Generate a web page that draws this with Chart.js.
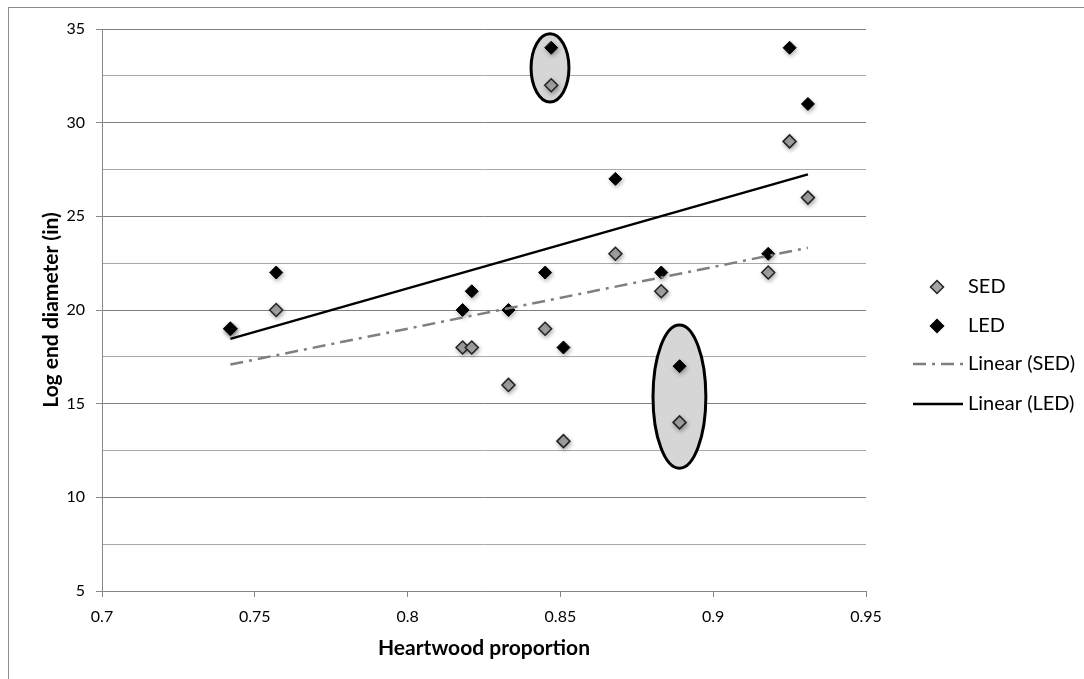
<!DOCTYPE html>
<html>
<head>
<meta charset="utf-8">
<script src="https://cdn.jsdelivr.net/npm/chart.js@4/dist/chart.umd.min.js"></script>
<style>
  html, body { margin: 0; padding: 0; background: #fff; }
  #wrap { width: 1084px; height: 679px; position: relative; }
</style>
</head>
<body>
<div id="wrap"><canvas id="chart"></canvas></div>
<script>
// values
const heartwood = [0.742, 0.757, 0.818, 0.821, 0.833, 0.845, 0.847, 0.851, 0.868, 0.883, 0.889, 0.918, 0.925, 0.931];
const sedValues = [19, 20, 18, 18, 16, 19, 32, 13, 23, 21, 14, 22, 29, 26];
const ledValues = [19, 22, 20, 21, 20, 22, 34, 18, 27, 22, 17, 23, 34, 31];

// trend line end points (Excel linear trendlines)
const trendX = [0.742, 0.931];
const sedTrend = [17.09, 23.32];
const ledTrend = [18.46, 27.24];

const xTickLabels = ['0.7', '0.75', '0.8', '0.85', '0.9', '0.95'];
const legendLabels = ['SED', 'LED', 'Linear (SED)', 'Linear (LED)'];

// the two highlighted pairs, in data units
const highlights = [
    { xMin: 0.8404, xMax: 0.8528, yMin: 31.1, yMax: 34.75 },
    { xMin: 0.8803, xMax: 0.8976, yMin: 11.55, yMax: 19.2 }
];

const FONT = 'Lato, Carlito, Calibri, sans-serif';
const SED_FILL = '#a6a6a6';
const SED_LINE = '#7f7f7f';
const DASH = [13, 6, 3, 6];

const toPts = (xs, ys) => xs.map((x, i) => ({ x, y: ys[i] }));

const framePlugin = {
    id: 'frame',
    beforeDraw(chart) {
        const ctx = chart.ctx;
        ctx.save();
        ctx.fillStyle = '#fff';
        ctx.fillRect(0, 0, chart.width, chart.height);
        ctx.strokeStyle = '#8c8c8c';
        ctx.lineWidth = 1;
        ctx.strokeRect(8.5, 7.5, chart.width + 20, chart.height + 20);
        ctx.restore();
    },
    beforeDatasetsDraw(chart) {
        const {ctx, scales: {x, y}} = chart;
        ctx.save();
        highlights.forEach(h => {
            const x0 = x.getPixelForValue(h.xMin), x1 = x.getPixelForValue(h.xMax);
            const y0 = y.getPixelForValue(h.yMax), y1 = y.getPixelForValue(h.yMin);
            ctx.beginPath();
            ctx.ellipse((x0 + x1) / 2, (y0 + y1) / 2, (x1 - x0) / 2, (y1 - y0) / 2, 0, 0, Math.PI * 2);
            ctx.fillStyle = '#d6d6d6';
            ctx.fill();
            ctx.lineWidth = 3;
            ctx.strokeStyle = '#000';
            ctx.stroke();
        });
        ctx.restore();
    },
    // soft marker shadows like the Excel original
    beforeDatasetDraw(chart, args) {
        if (args.meta.dataset && chart.data.datasets[args.index].showLine) return;
        const ctx = chart.ctx;
        ctx.save();
        ctx.shadowColor = 'rgba(0,0,0,0.3)';
        ctx.shadowBlur = 4;
        ctx.shadowOffsetX = 1;
        ctx.shadowOffsetY = 2;
    },
    afterDatasetDraw(chart, args) {
        if (args.meta.dataset && chart.data.datasets[args.index].showLine) return;
        chart.ctx.restore();
    },
    afterDraw(chart) {
        // legend on the right, Excel style
        const {ctx, chartArea} = chart;
        const r = chartArea.right;
        const rows = [287, 326, 364, 404];
        ctx.save();
        ctx.font = '20px ' + FONT;
        ctx.fillStyle = '#000';
        ctx.textBaseline = 'middle';
        rows.forEach((yy, i) => {
            ctx.fillText(legendLabels[i], r + 102, yy);
        });
        const diamond = (cx, cy, rad, fill, stroke) => {
            ctx.beginPath();
            ctx.moveTo(cx, cy - rad); ctx.lineTo(cx + rad, cy);
            ctx.lineTo(cx, cy + rad); ctx.lineTo(cx - rad, cy);
            ctx.closePath();
            ctx.fillStyle = fill; ctx.fill();
            ctx.lineWidth = 1.5; ctx.strokeStyle = stroke; ctx.stroke();
        };
        diamond(r + 71, rows[0], 6.5, SED_FILL, '#222');
        diamond(r + 71, rows[1], 6.5, '#000', '#000');
        ctx.lineWidth = 2.5;
        ctx.strokeStyle = SED_LINE;
        ctx.setLineDash(DASH);
        ctx.beginPath(); ctx.moveTo(r + 47, rows[2]); ctx.lineTo(r + 97, rows[2]); ctx.stroke();
        ctx.setLineDash([]);
        ctx.strokeStyle = '#000';
        ctx.beginPath(); ctx.moveTo(r + 47, rows[3]); ctx.lineTo(r + 97, rows[3]); ctx.stroke();
        ctx.restore();
    }
};

new Chart(document.getElementById('chart'), {
    type: 'scatter',
    data: {
        datasets: [
            {
                label: 'Linear (LED)',
                data: toPts(trendX, ledTrend),
                showLine: true,
                borderColor: '#000',
                borderWidth: 2.5,
                pointRadius: 0,
                order: 0
            },
            {
                label: 'Linear (SED)',
                data: toPts(trendX, sedTrend),
                showLine: true,
                borderColor: SED_LINE,
                borderWidth: 2.5,
                borderDash: DASH,
                pointRadius: 0,
                order: 1
            },
            {
                label: 'LED',
                data: toPts(heartwood, ledValues),
                pointStyle: 'rectRot',
                pointRadius: 6.5,
                backgroundColor: '#000',
                borderColor: '#000',
                borderWidth: 1,
                order: 2
            },
            {
                label: 'SED',
                data: toPts(heartwood, sedValues),
                pointStyle: 'rectRot',
                pointRadius: 6.5,
                backgroundColor: SED_FILL,
                borderColor: '#222',
                borderWidth: 1.5,
                order: 3
            }
        ]
    },
    options: {
        responsive: true,
        maintainAspectRatio: false,
        animation: false,
        layout: { padding: { left: 35, right: 218, top: 29, bottom: 14 } },
        plugins: {
            legend: { display: false },
            tooltip: { enabled: false }
        },
        scales: {
            x: {
                type: 'linear',
                min: 0.7,
                max: 0.95,
                afterFit: s => { s.height = 74; },
                ticks: {
                    stepSize: 0.05,
                    padding: 10,
                    color: '#000',
                    font: { family: FONT, size: 16 },
                    callback: (v, i) => xTickLabels[i]
                },
                grid: { drawOnChartArea: false, tickLength: 6, color: '#868686' },
                border: { color: '#868686' },
                title: {
                    display: true,
                    text: 'Heartwood proportion',
                    color: '#000',
                    font: { family: FONT, size: 21, weight: 'bold' }
                }
            },
            y: {
                min: 5,
                max: 35,
                afterFit: s => { s.width = 67; },
                ticks: {
                    stepSize: 2.5,
                    padding: 11,
                    color: '#000',
                    font: { family: FONT, size: 16 },
                    callback: v => (v % 5 === 0 ? String(v) : '')
                },
                grid: {
                    tickLength: 6,
                    color: c => (c.tick && c.tick.value % 5 === 0 ? '#808080' : '#a8a8a8'),
                    tickColor: c => (c.tick && c.tick.value % 5 === 0 ? '#868686' : 'rgba(0,0,0,0)')
                },
                border: { color: '#868686' },
                title: {
                    display: true,
                    text: 'Log end diameter (in)',
                    color: '#000',
                    font: { family: FONT, size: 21, weight: 'bold' }
                }
            }
        }
    },
    plugins: [framePlugin]
});
</script>
</body>
</html>
